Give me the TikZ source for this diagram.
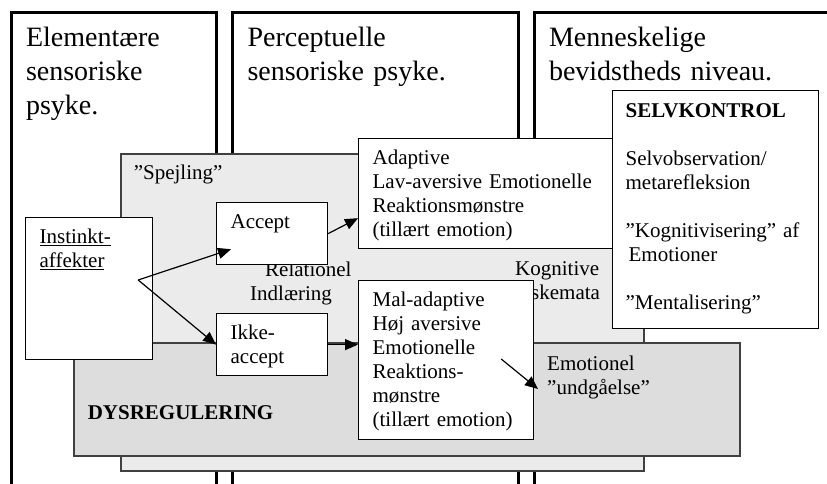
\documentclass[tikz,border=0pt]{standalone}
\usepackage{fontspec}
\setmainfont{Liberation Serif}
\usepackage{tikz}
\usetikzlibrary{arrows.meta, calc}
\definecolor{lightgrey}{RGB}{235, 235, 235}
\definecolor{darkgrey}{RGB}{221, 221, 221}
\definecolor{edgegrey}{RGB}{64, 64, 64}
\newcommand{\headfont}{\fontsize{28}{34}\selectfont}
\newcommand{\bodyfont}{\fontsize{21}{24}\selectfont}

\begin{document}
\begin{tikzpicture}[x=1pt, y=-1pt,
    colframe/.style={draw, line width=3pt, anchor=north west, inner xsep=15pt, inner ysep=0pt, text height=33.5pt, text depth=490pt, align=left, font=\headfont},
    greybox/.style={draw=edgegrey, line width=1.5pt, anchor=north west, inner xsep=13pt, inner ysep=0pt, text height=26pt, align=left, font=\bodyfont},
    textbox/.style={draw, line width=1.2pt, fill=white, anchor=north west, inner xsep=14pt, inner ysep=0pt, text height=25.5pt, align=left, font=\bodyfont},
    note/.style={anchor=base west, inner sep=0pt, align=left, font=\bodyfont},
    arrow/.style={line width=1.2pt, -{Triangle[length=13pt, width=11pt]}}]

    \useasboundingbox (0,0) rectangle (827,484);
    \fill[white] (0,0) rectangle (827,484);

    % Levels
    \node[colframe, text width=175.5pt] (elementary) at (9.5,11.5) {Elementære\\sensoriske\\psyke.};
    \node[colframe, text width=256pt] (perceptual) at (231,11.5) {Perceptuelle\\sensoriske psyke.};
    \node[colframe, text width=300pt] (human) at (532.5,11.5) {Menneskelige\\bevidstheds niveau.};

    % Regions
    \node[greybox, fill=lightgrey, text width=497pt, text depth=291pt] (mirroring) at (120,153) {”Spejling”};
    \node[greybox, fill=darkgrey, inner xsep=14pt, text width=638pt, text height=77pt, text depth=36pt, font=\bodyfont\bfseries] (dysregulation) at (73,342) {DYSREGULERING};
    \node[note, text width=110pt] (relational) at (250,276) {\hspace*{15pt}Relationel\\Indlæring};
    \node[note, text width=120pt] (cognitive) at (515,275) {Kognitive\\\hspace*{16pt}skemata\hspace*{15pt},};

    % Boxes
    \node[textbox, text width=99pt, text depth=116.5pt] (instinct) at (25,217) {\underline{Instinkt-}\\\underline{affekter}};
    \node[textbox, text width=83pt, text depth=36.5pt] (accept) at (216,202) {Accept};
    \node[textbox, text width=83pt, text depth=36.5pt] (nonaccept) at (216,313) {Ikke-\\accept};
    \node[textbox, text width=254pt, text depth=84.5pt] (adaptive) at (358,138) {Adaptive\\Lav-aversive Emotionelle\\Reaktionsmønstre\\(tillært emotion)};
    \node[textbox, text width=147pt, text depth=133.5pt] (maladaptive) at (358,280) {Mal-adaptive\\Høj aversive\\Emotionelle\\Reaktions-\\mønstre\\(tillært emotion)};
    \node[textbox, inner xsep=13pt, text width=180pt, text height=27pt, text depth=211pt] (selfcontrol) at (612,90) {\textbf{SELVKONTROL}\\[24pt]Selvobservation/\\metarefleksion\\[24pt]”Kognitivisering” af\\\hspace*{3pt}Emotioner\\[24pt]”Mentalisering”};
    \node[note, text width=150pt] (emotional) at (547,370) {Emotionel\\”undgåelse”};

    % Connections
    \coordinate (fork) at ($(instinct.north east)+(-15,63)$);
    \draw[arrow] (fork) -- ($(accept.south west)+(15,-16)$);
    \draw[arrow] (fork) -- (nonaccept.west);
    \draw[arrow] (accept.east) -- ($(adaptive.south west)+(0,-31)$);
    \draw[arrow] (nonaccept.east) -- (nonaccept.east -| maladaptive.west);
    \draw[arrow] ($(maladaptive.north east)+(-33,79)$) -- ($(emotional.base west)+(-9,19)$);
\end{tikzpicture}
\end{document}
